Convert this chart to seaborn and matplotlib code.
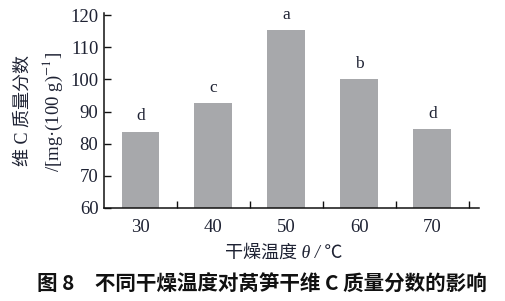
import matplotlib
matplotlib.use('Agg')
import matplotlib.pyplot as plt
import seaborn as sns
import pandas as pd

temps = ['30', '40', '50', '60', '70']
vitc = [83.8, 92.6, 115.4, 100.1, 84.5]
letters = ['d', 'c', 'a', 'b', 'd']
yticks = [60, 70, 80, 90, 100, 110, 120]

sns.set_theme(style='ticks')
plt.rcParams['font.family'] = ['Liberation Serif', 'Noto Sans CJK SC']
plt.rcParams['mathtext.fontset'] = 'stix'
plt.rcParams['axes.unicode_minus'] = False

W, H = 506, 301
fig = plt.figure(figsize=(W / 100, H / 100), dpi=100)
ax = fig.add_axes([104 / W, 1 - 208 / H, (479 - 104) / W, (208 - 13) / H])

df = pd.DataFrame({'t': temps, 'v': vitc})
sns.barplot(data=df, x='t', y='v', color='#a7a8ab', width=0.52, saturation=1,
            ax=ax, edgecolor='none', linewidth=0)

txtc = '#1e2233'
for i, (v, l) in enumerate(zip(vitc, letters)):
    ax.text(i, v + 2.2, l, ha='center', va='bottom', fontsize=12.5, color=txtc,
            family=['Liberation Serif'])

ax.set_xlim(-0.5, 4.64)
ax.set_ylim(60, 120.7)
ax.set_yticks(yticks)
ax.set_xticks([0.5, 1.5, 2.5, 3.5, 4.5], minor=True)
ax.tick_params(axis='x', which='major', length=0, pad=8, labelsize=13.5, labelcolor=txtc)
ax.tick_params(axis='x', which='minor', direction='in', length=5, width=1, color='#111111')
ax.tick_params(axis='y', direction='in', length=5, width=1, pad=4, labelsize=13.5,
               labelcolor=txtc, color='#111111')
for lab in ax.get_xticklabels() + ax.get_yticklabels():
    lab.set_family('Liberation Serif')
ax.set_xlabel('')
ax.set_ylabel('')
sns.despine(ax=ax)
for s in ['left', 'bottom']:
    ax.spines[s].set_linewidth(1.1)
    ax.spines[s].set_color('#111111')

fig.text(284 / W, 1 - 253 / H, '干燥温度 θ / ℃', ha='center', va='center',
         fontsize=13, color=txtc, style='italic',
         family=['Liberation Serif', 'Noto Sans CJK SC'])
fig.text(23 / W, 1 - 111 / H, '维 C 质量分数', rotation=90, ha='center', va='center',
         fontsize=13, color=txtc)
fig.text(53 / W, 1 - 112 / H, '/[mg·(100 g)$^{-1}$]', rotation=90, ha='center',
         va='center', fontsize=13.5, color=txtc)
fig.text(262 / W, 1 - 284 / H, '图 8　不同干燥温度对莴笋干维 C 质量分数的影响',
         ha='center', va='center', fontsize=14.8, fontweight='bold', color='#111111',
         family=['Noto Sans CJK SC'])

fig.savefig('out.png', dpi=100)
